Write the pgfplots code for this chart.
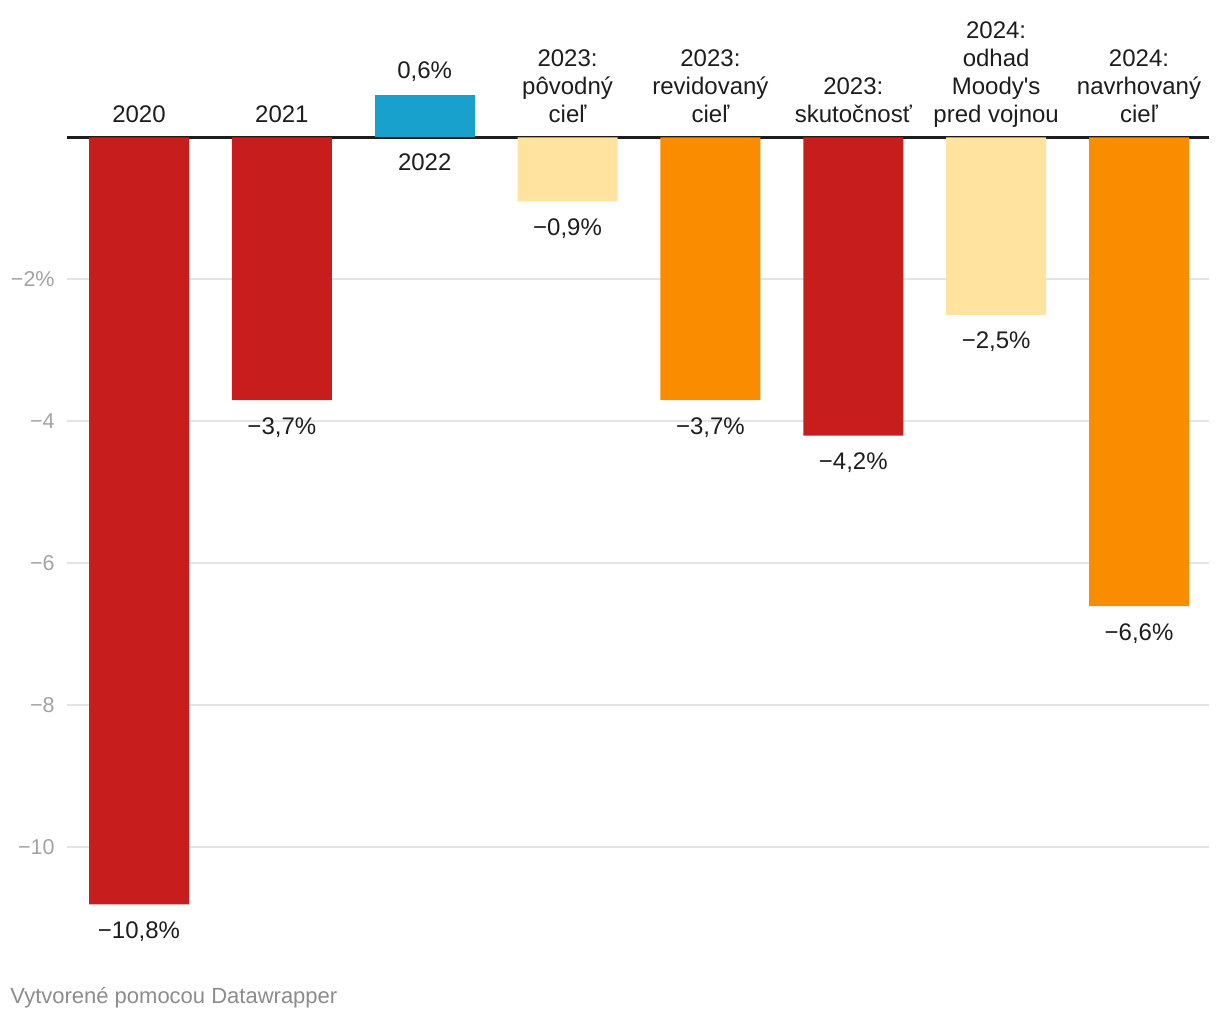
\documentclass[border=0pt]{standalone}
\usepackage{pgfplots}
\pgfplotsset{compat=1.18}
\usepackage{fontspec}
\setmainfont{Liberation Sans}
\definecolor{dwred}{HTML}{C71E1D}
\definecolor{dwblue}{HTML}{18A1CD}
\definecolor{dwyellow}{HTML}{FFE39F}
\definecolor{dworange}{HTML}{FA8C00}
\definecolor{txt}{HTML}{1D1D1D}
\definecolor{ticktxt}{HTML}{A3A3A3}
\definecolor{gridc}{HTML}{E4E4E4}
\definecolor{footc}{HTML}{8C8C8C}

\tikzset{
  catlabel/.style={anchor=south, align=center, inner sep=0pt, text depth=0pt,
    yshift=7.5pt, font=\fontsize{12}{14}\selectfont, text=txt},
}

\begin{document}
\begin{tikzpicture}
\path (0,0) rectangle (610pt,510pt);
\begin{axis}[
  at={(33.5pt,50.75pt)}, anchor=south west,
  scale only axis, width=571pt, height=390.5pt,
  xmin=-0.504, xmax=7.49, ymin=-11, ymax=0,
  clip=false,
  ybar, bar width=50pt, bar shift=0pt,
  axis line style={draw=none},
  major tick length=0pt,
  xtick=\empty,
  ytick={-10,-8,-6,-4,-2},
  yticklabels={−10,−8,−6,−4,−2\%},
  yticklabel style={anchor=east, inner sep=0pt, xshift=-6pt,
    font=\fontsize{10.75}{12}\selectfont, text=ticktxt},
  ymajorgrids,
  grid style={gridc, line width=1pt},
  extra y ticks={0},
  extra y tick labels={},
  extra y tick style={grid style={txt, line width=1.1pt}},
  point meta=explicit symbolic,
  nodes near coords,
  every node near coord/.append style={anchor=base, inner sep=0pt,
    font=\fontsize{12}{14}\selectfont, text=txt, yshift=-17pt},
]
% red
\addplot[fill=dwred, draw=none] coordinates {
  (0,-10.8) [−10,8\%]
  (1,-3.7)  [−3,7\%]
  (5,-4.2)  [−4,2\%]
};
% blue
\addplot[fill=dwblue, draw=none,
  every node near coord/.append style={yshift=25pt}] coordinates {
  (2,0.6) [0,6\%]
};
% light yellow
\addplot[fill=dwyellow, draw=none] coordinates {
  (3,-0.9) [−0,9\%]
  (6,-2.5) [−2,5\%]
};
% orange
\addplot[fill=dworange, draw=none] coordinates {
  (4,-3.7) [−3,7\%]
  (7,-6.6) [−6,6\%]
};

\node[catlabel] at (axis cs:0,0) {2020};
\node[catlabel] at (axis cs:1,0) {2021};
\node[catlabel, anchor=base, yshift=-24pt] at (axis cs:2,0) {2022};
\node[catlabel] at (axis cs:3,0) {2023:\\pôvodný\\cieľ};
\node[catlabel] at (axis cs:4,0) {2023:\\revidovaný\\cieľ};
\node[catlabel] at (axis cs:5,0) {2023:\\skutočnosť};
\node[catlabel] at (axis cs:6,0) {2024:\\odhad\\Moody\textquotesingle s\\pred vojnou};
\node[catlabel] at (axis cs:7,0) {2024:\\navrhovaný\\cieľ};
\end{axis}
\node[anchor=base west, inner sep=0pt, font=\fontsize{11}{12}\selectfont,
  text=footc] at (5pt,8pt) {Vytvorené pomocou Datawrapper};
\end{tikzpicture}
\end{document}
